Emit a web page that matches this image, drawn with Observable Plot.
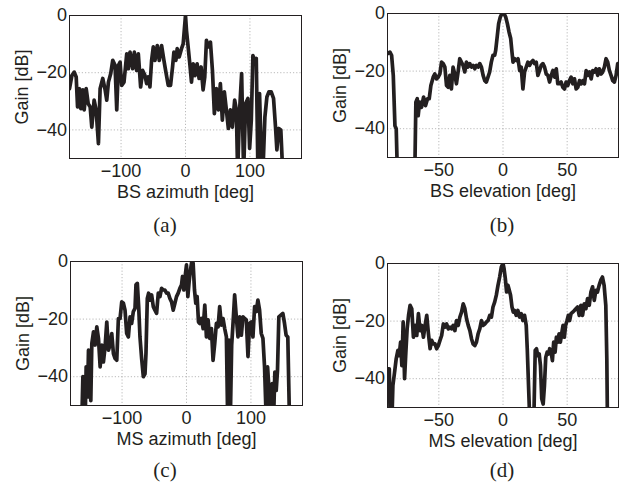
<!DOCTYPE html>
<html><head><meta charset="utf-8">
<script src="https://cdn.jsdelivr.net/npm/d3@7"></script>
<script src="https://cdn.jsdelivr.net/npm/@observablehq/plot@0.6"></script>
<style>
body{margin:0;background:#fff;}
#fig{position:relative;width:622px;height:486px;overflow:hidden;background:#fff;}
.panel{position:absolute;width:311px;}
.cap{position:absolute;font-family:"Liberation Serif","Times New Roman",serif;font-size:21px;line-height:21px;color:#231f20;transform:translateX(-50%);white-space:nowrap;}
</style></head><body><div id="fig"></div>
<script>
// ---- data ----
const gainTicks = [0, -20, -40];
const azTicks = [-100, 0, 100];
const elTicks = [-50, 0, 50];

const bsAzDeg = [-180,-176.3,-172.7,-169.6,-167.5,-164.4,-162.4,-159.3,-157.2,-154.1,-151,-147.9,-145.4,-141.8,-138.7,-135.1,-132.5,-128.4,-124.7,-122.2,-119.6,-116,-112.9,-109.3,-106.7,-104.1,-101.5,-99,-95.4,-91.2,-88.7,-86.1,-82,-79.4,-75.8,-73.2,-69.6,-66.5,-62.9,-60.3,-57.7,-55.2,-52.6,-50,-47.4,-43.8,-40.7,-37.1,-33.5,-30.4,-26.8,-23.2,-20.1,-18,-14.9,-12.9,-9.8,-6.2,-3.6,0,1.5,4.1,6.7,9.3,11.9,14.9,18,21.1,24.2,27.3,29.9,32.5,35.6,38.7,41.8,44.8,47.9,51,54.1,57.2,60.3,63.4,66.5,69.6,72.7,76.3,78.9,80.9,84,87.1,90.2,93.3,96.9,99.5,102.1,104.6,107.2,109.8,112.4,114.9,117.5,120.1,123.2,126.3,129.4,133,136.6,139.7,141.8,144.8,147.9,150,152.1];
const bsAzGain = [-25.6,-21,-19.8,-21.5,-32,-25.6,-32.6,-26,-33,-25.6,-30.8,-32,-39,-29.6,-33,-44.8,-25.6,-22,-26,-29.6,-23.3,-20.3,-15.7,-17.4,-33,-17.4,-16.3,-24.4,-23.3,-13.4,-18.6,-12.8,-18.6,-12.8,-19.2,-13.4,-25,-19.2,-21,-23.8,-21.5,-25,-15.7,-11,-15.7,-10.5,-15.7,-10.5,-15.7,-19.8,-24.4,-24.4,-18,-12.8,-15.7,-11.6,-14.5,-11.6,-9.9,0,-5.2,-11,-16.9,-23.3,-16.9,-21,-16.9,-22,-18,-26,-21.5,-8.7,-11,-9.3,-19.2,-34.3,-25.6,-33,-23.8,-36.6,-26.7,-33,-39.5,-33,-39,-29.6,-33,-55,-33,-20.3,-55,-30.8,-29,-46.5,-36.6,-14,-15.7,-15,-55,-27.3,-48,-55,-35.5,-28.5,-26.7,-26.7,-29,-39,-47,-39.5,-40,-50.5,-55];

const bsElDeg = [-90,-88.1,-86.8,-85.5,-84.2,-83.2,-82.6,-82.1,-68.7,-67.9,-66.8,-66.1,-65,-63.5,-61.9,-60.4,-58.8,-57.5,-56.2,-54.4,-53.1,-51.8,-50.5,-49.2,-47.9,-46.6,-45.3,-44,-42.7,-41.5,-40.2,-38.9,-37.6,-36.3,-35,-33.7,-32.4,-31.1,-29.8,-28.5,-27.2,-25.9,-24.6,-23.3,-22,-20.7,-19.4,-18.1,-16.8,-15.5,-14.2,-13,-11.7,-10.4,-9.1,-7.8,-6.5,-5.7,-4.4,-3.4,-2.1,-0.8,0.8,2.1,3.4,4.7,6,7,7.8,9.1,10.4,11.7,13,14.2,15.5,16.8,18.1,19.4,20.7,22,23.3,24.6,25.9,27.2,28.5,29.8,31.1,32.4,33.7,35,36.3,37.6,38.9,40.2,41.5,42.7,44,45.3,46.6,47.9,49.2,50.5,51.8,53.1,54.4,55.7,57,58.3,59.6,60.9,62.2,63.5,64.8,66.1,67.4,68.7,69.9,71.2,72.5,73.8,75.1,76.4,77.7,79,80.3,81.6,82.9,84.2,85.5,86.8,88.1,89.4,90];
const bsElGain = [-14,-13.4,-14.5,-21.5,-39,-40,-50.5,-55,
-55,-30.8,-29.6,-35.5,-30.8,-32.6,-29,-32,-29.6,-29.6,
-25,
-22.1,-21,-22.7,-22.1,-21,-16.9,-17.4,-18.6,-25,-25.6,-21.5,-26.2,-18.6,-21,-24.4,-20.3,-15.7,-16.9,-18,-20.3,-16.9,-18.6,-17.4,-18.6,-18,-19.2,-18,-18.6,-17.4,-18.6,-21.5,-23.3,-23.8,-22.1,-20.3,-16.9,-14.5,-14.5,
-12.8,-7.6,-3.5,-1.2,0,0,-1.2,-3.5,-6.4,-8.7,-13.4,
-16.9,
-15.7,-16.3,-15.7,-19.8,-18.6,-26.2,-20.3,-18.6,-16.9,-18,
-16.9,-16.3,-17.4,-16.9,-21.5,-19.8,-18,-17.4,-18.6,-21,
-21.5,-23.8,-21.5,-19.8,-22.1,-19.2,-24.4,-24.4,-23.8,-25.6,
-26.2,-23.8,-25,-23.3,-22.1,-24.4,-22.7,-26.2,-25.6,-23.3,
-24.4,-23.3,-24.4,-19.8,-21.5,-20.3,-22.7,-19.8,-20.3,-19.2,
-21.5,-19.2,-21,-20.3,-18.6,-15.7,-16.9,-19.8,-21.5,-23.3,
-23.8,-21.5,-17.4,-18.6];

const msAzDeg = [-162.4,-160.8,-158.8,-157.2,-155.7,-153.6,-152.1,-150.5,-148.5,-146.9,
-144.3,-141.8,-139.2,-136.6,-134,-131.4,-128.9,-126.3,-123.7,-121.1,-118.6,-116,-113.4,-110.8,-108.2,-105.7,-103.1,-100.5,-97.9,-95.4,-92.8,-90.2,-87.6,-85.1,-82.5,-79.9,
-78.4,-76.3,-74.2,
-72.2,-69.6,-67,-64.4,
-62.9,-60.8,-58.8,
-56.7,-54.1,-51.5,-49,-46.4,-43.8,-41.2,-38.7,-36.1,-33.5,-30.9,-28.4,-25.8,-23.2,-20.6,-18,-15.5,-12.9,-10.3,-7.7,
-6.2,-4.1,-2.1,0,2.1,4.1,6.2,8.2,10.3,12.4,14.4,16.5,18.6,20.6,
23.2,25.8,28.4,30.9,33.5,36.1,38.7,41.2,43.8,46.4,49,51.5,54.1,56.7,59.3,61.9,
63.9,66,68,70.1,72.2,
74.7,77.3,79.9,82.5,85.1,87.6,90.2,92.8,95.4,97.9,100.5,103.1,105.7,108.2,110.8,113.4,116,118.6,121.1,
123.7,125.8,127.8,129.9,133,135.1,137.1,139.2,141.2,143.3,
146.4,149.5,152.1,154.6,157.2,159.8];
const msAzGain = [-55,-40,-40.7,-55,-36.6,-47,-30.8,-32,-48.3,-28.5,
-24.4,-29,-22.7,-26.7,-36.6,-29,-34.9,-29.6,-21,-30.8,-29,-25,-32,-33.7,-34.3,-19.8,-19.8,-14,-14.5,-16.9,-25,-26.2,-19.2,-21.5,-17.4,-16.3,
-8.1,-7.6,-15.7,
-26.2,-33.7,-40,-39,
-32,-12.8,-11,
-13.4,-11.6,-15.7,-16.9,-18,-11,-12.2,-9.3,-9.9,-9.9,-11,-11,-12.8,-14,-16.9,-14.5,-12.2,-11,-9.3,-8.1,
-5.2,-9.9,-5.2,-1.2,-12.2,-7,-2.9,0,-0.6,-9.9,-14.5,-12.2,-21,-21.5,
-19.8,-23.3,-15.1,-26.2,-20.3,-26.7,-23.3,-34.3,-28.5,-21.5,-22.7,-15.7,-22.1,-19.8,-23.3,-26.2,
-55,-27.3,-55,-29,-21.5,
-11.6,-19.2,-26.2,-19.2,-25.6,-19.2,-19.8,-20.3,-33,-21.5,-21,-26.2,-15.7,-17.4,-13.4,-16.9,-25,-26.7,-36.6,
-55,-36.6,-43.6,-55,-42.4,-55,-38.4,-44.8,-37.8,-19.2,
-18.6,-18,-21.5,-25.6,-26.2,-55];

const msElDeg = [-89.7,-88.6,-87.9,-86.6,-85.8,-84.5,-83.2,-81.9,-80.9,-79.8,-78.8,-77.8,-76.7,-75.7,-74.7,
-73.6,-72.4,-71.1,-69.8,-68.5,-67.2,-65.9,-64.6,-63.3,-62,-60.7,-59.4,-58.1,-56.8,-55.6,-54.3,-53,-51.7,-50.4,-49.1,-47.8,-46.5,-45.2,-43.9,-42.6,-41.3,-40.1,-38.8,-37.5,-36.2,-34.9,-33.6,-32.3,-31,-29.7,-28.4,-27.1,-25.8,-24.5,-23.3,-22,-20.7,-19.4,-18.1,-16.8,-15.5,-14.2,-12.9,-11.6,-10.3,-9,-7.8,-6.5,-5.2,-3.9,-2.6,-1.3,
0,0.8,1.8,2.8,3.9,4.9,5.9,7,8,9,
10.3,11.6,12.9,14.2,15.5,16.8,18.1,
18.9,19.9,20.9,24,25.1,26.1,27.1,28.2,29.2,30.2,31.3,32.3,33.3,34.4,35.4,36.4,37.5,38.5,39.5,40.6,41.6,42.6,43.7,44.7,45.7,46.8,47.8,48.8,49.9,50.9,51.9,53,
54.3,55.6,56.8,58.1,59.4,60.7,62,63.3,64.6,65.9,67.2,68.5,69.8,71.1,72.4,73.6,74.9,76.2,77.5,78.8,80.1,
80.9,81.4];
const msElGain = [-36.6,-36.6,-55,-55,-42.4,-37.8,-33,-30.2,-32,-27.3,-35.5,-20.3,-40,-30.8,-22.7,
-18,-14.5,-15.7,-25.6,-21.5,-25,-17.4,-23.3,-21.5,-25.6,-21.5,-18,-24.4,-29.6,-26.7,-27.9,-27.9,-29.6,-28.5,-26.7,-25,-21,-22.1,-21,-22.7,-22.1,-22.7,-21.5,-23.3,-19.8,-21.5,-18.6,-16.9,-14,-15.7,-19.2,-21.5,-23.3,-26.2,-27.9,-28.5,-27.3,-24.4,-22.7,-19.8,-21.5,-21,-20.3,-19.8,-18,-18.6,-15.1,-13.4,-11,-7.6,-4.7,-1.2,
0,-1.7,-5.2,-9.9,-7.6,-9.3,-11,-15.1,-16.9,-16.3,
-18,-16.3,-18.6,-17.4,-19.8,-18,-21.5,
-29.6,-42.4,-55,-55,-30.2,-29.6,-32,-31.4,-35.5,-47,-48.8,-42.4,-32.6,-30.8,-31.4,-29.6,-30.8,-33.7,-27.3,-30.8,-25.6,-27.3,-24.4,-27.3,-24.4,-21.5,-25.6,-21.5,-19.8,-18,-19.8,-17.4,
-16.9,-16.3,-15.7,-15.1,-18,-14.5,-18,-14,-15.7,-12.2,-14.5,-9.9,-8.1,-12.8,-9.3,-9.9,-7.6,-5.8,-4.7,-7.6,-14.5,
-33,-55];

// ---- layout ----
const ink = "#231f20";
const panels = [
  {deg: bsAzDeg, gain: bsAzGain, domain: [-180, 180], ticks: azTicks, label: "BS azimuth [deg]", left: 0, top: 0,
   m: {t: 15, b: 62, l: 69, r: 10}, cap: "(a)", capX: 165, capY: 233},
  {deg: bsElDeg, gain: bsElGain, domain: [-90, 90], ticks: elTicks, label: "BS elevation [deg]", left: 311, top: 0,
   m: {t: 13, b: 63, l: 76, r: 4}, cap: "(b)", capX: 502, capY: 233},
  {deg: msAzDeg, gain: msAzGain, domain: [-180, 180], ticks: azTicks, label: "MS azimuth [deg]", left: 0, top: 243,
   m: {t: 18, b: 58, l: 70, r: 9}, cap: "(c)", capX: 165, capY: 478},
  {deg: msElDeg, gain: msElGain, domain: [-90, 90], ticks: elTicks, label: "MS elevation [deg]", left: 311, top: 243,
   m: {t: 20, b: 56, l: 76, r: 4}, cap: "(d)", capX: 502, capY: 478}
];

const fig = document.getElementById("fig");
for (const p of panels) {
  const data = p.deg.map((d, i) => ({deg: d, gain: p.gain[i]}));
  const chart = Plot.plot({
    width: 311, height: 220,
    marginTop: p.m.t, marginBottom: p.m.b, marginLeft: p.m.l, marginRight: p.m.r,
    style: {fontFamily: "'Liberation Sans', Arial, Helvetica, sans-serif", fontSize: "18px", color: ink, background: "white"},
    x: {domain: p.domain},
    y: {domain: [-50, 0]},
    marks: [
      Plot.gridX(p.ticks, {stroke: "#a8a8a8", strokeOpacity: 1, strokeWidth: 0.8, strokeDasharray: "1.2,2"}),
      Plot.gridY([-20, -40], {stroke: "#a8a8a8", strokeOpacity: 1, strokeWidth: 0.8, strokeDasharray: "1.2,2"}),
      Plot.line(data, {x: "deg", y: "gain", stroke: ink, strokeWidth: 3.7, strokeLinejoin: "round", clip: true}),
      Plot.frame({stroke: ink, strokeWidth: 1}),
      Plot.axisX(p.ticks, {tickSize: 0, tickPadding: 5.5, fontSize: 18, fill: ink,
        label: p.label, labelAnchor: "center", labelArrow: "none", labelOffset: 39}),
      Plot.axisY(gainTicks, {tickSize: 0, tickPadding: 2.5, fontSize: 18, fill: ink,
        label: "Gain [dB]", labelAnchor: "center", labelArrow: "none", labelOffset: 54})
    ]
  });
  const div = document.createElement("div");
  div.className = "panel";
  div.style.left = p.left + "px";
  div.style.top = p.top + "px";
  div.appendChild(chart);
  fig.appendChild(div);
  const cap = document.createElement("div");
  cap.className = "cap";
  cap.textContent = p.cap;
  cap.style.left = p.capX + "px";
  cap.style.top = (p.capY - 17.6) + "px";
  fig.appendChild(cap);
}
</script>
</body></html>
